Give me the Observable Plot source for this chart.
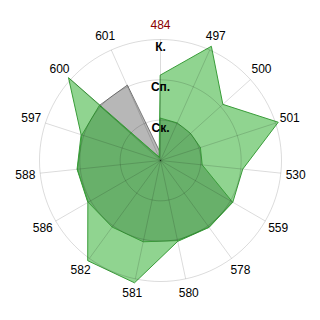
<!DOCTYPE html>
<html><head><meta charset="utf-8">
<script src="https://cdn.jsdelivr.net/npm/d3@7"></script>
<script src="https://cdn.jsdelivr.net/npm/@observablehq/plot@0.6"></script>
<style>body{margin:0;background:#fff}</style>
</head><body><div id="chart"></div>
<script>
const axesLabels = ["484","497","500","501","530","559","578","580","581","582","586","588","597","600","601"];
const seriesLight = [2.12, 3.1, 2.08, 3.07, 2.05, 2.07, 2.05, 2.05, 3.1, 3.07, 2.08, 2.08, 2.07, 3.07, 0.1];
const seriesDark  = [1.05, 1.02, 1.0, 1.04, 1.04, 2.06, 2.04, 2.03, 2.06, 2.04, 2.07, 2.07, 2.05, 2.04, 0.08];
const seriesGray  = [0.2, 0.9, 0.9, 0.9, 0.9, 1.0, 1.0, 1.0, 1.0, 1.0, 1.0, 1.5, 1.9, 2.04, 2.04];
const levelValues = [1, 2, 3];
const levelLabels = ["Ск.", "Сп.", "К."];

const n = axesLabels.length;
const ang = i => i * 2 * Math.PI / n;
const K = 121 / 3;
const W = 160 / K;
const px = (v, i) => v * Math.sin(ang(i));
const py = (v, i) => v * Math.cos(ang(i));
const rows = vals => vals.map((v, i) => ({v, i}));

const ringPts = levelValues.flatMap(k => d3.range(120).map(j => ({k, a: j * 2 * Math.PI / 120})));
const gridStyle = {stroke: "#000", strokeOpacity: 0.14, strokeWidth: 1};

const chart = Plot.plot({
  width: 320, height: 320, margin: 0,
  x: {domain: [-W, W], axis: null},
  y: {domain: [-W, W], axis: null},
  style: {fontFamily: "'Liberation Sans', Arial, sans-serif", fontSize: "12px", background: "#fff"},
  marks: [
    Plot.line(rows(seriesGray), {x: d => px(d.v, d.i), y: d => py(d.v, d.i), curve: "linear-closed", fill: "#b7b7b7", stroke: "#7a7a7a", strokeWidth: 1}),
    Plot.line(rows(seriesLight), {x: d => px(d.v, d.i), y: d => py(d.v, d.i), curve: "linear-closed", fill: "#90d490", stroke: "#3a9d3a", strokeWidth: 1}),
    Plot.line(rows(seriesDark), {x: d => px(d.v, d.i), y: d => py(d.v, d.i), curve: "linear-closed", fill: "#68b06a", stroke: "#3a9d3a", strokeWidth: 1}),
    Plot.line(ringPts, {x: d => d.k * Math.sin(d.a), y: d => d.k * Math.cos(d.a), z: "k", curve: "linear-closed", ...gridStyle}),
    Plot.link(axesLabels, {x1: 0, y1: 0, x2: (d, i) => px(3, i), y2: (d, i) => py(3, i), ...gridStyle}),
    Plot.text(axesLabels.slice(1), {x: (d, i) => px(3.37, i + 1), y: (d, i) => py(3.37, i + 1), text: d => d, fill: "#000", fontSize: 12}),
    Plot.text(axesLabels.slice(0, 1), {x: (d, i) => px(3.35, i), y: (d, i) => py(3.35, i), text: d => d, fill: "#8b0000", fontSize: 12}),
    Plot.text(levelValues, {x: 0, y: d => d, dy: 7.5, text: (d, i) => levelLabels[i], fontWeight: "bold", fill: "#000", fontSize: 12})
  ]
});
document.getElementById("chart").appendChild(chart);
</script></body></html>
